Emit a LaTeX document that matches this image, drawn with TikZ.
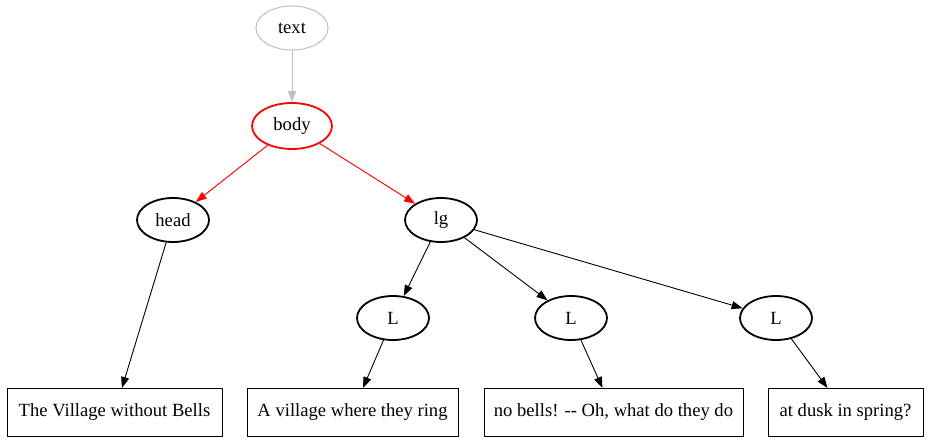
\documentclass[tikz,border=0pt]{standalone}
\usepackage{fontspec}
\setmainfont{Liberation Serif}
\usetikzlibrary{arrows.meta,shapes.geometric}
\begin{document}
\begin{tikzpicture}[x=1pt,y=-1pt,
  every node/.style={font=\fontsize{18.6}{21}\selectfont, inner sep=0pt},
  ell/.style={ellipse, draw=black, line width=1.8pt, minimum width=72pt, minimum height=44pt},
  grayell/.style={ellipse, draw=black!25, line width=1pt, minimum width=72pt, minimum height=44pt},
  redell/.style={ellipse, draw=red, line width=1.8pt, minimum width=80pt, minimum height=46pt},
  box/.style={rectangle, draw=black, line width=1pt, minimum height=48pt},
  edge/.style={line width=0.9pt, -{Triangle[length=11pt,width=8pt]}},
]
\useasboundingbox (0,0) rectangle (928,443);
\node[grayell] (text) at (292,28) {text};
\node[redell] (body) at (292,126) {body};
\node[ell] (head) at (173,220) {head};
\node[ell] (lg) at (441,220) {lg};
\node[ell] (L1) at (393,318) {L};
\node[ell] (L2) at (571,318) {L};
\node[ell] (L3) at (776,318) {L};
\node[box, minimum width=215pt] (r1) at (114.5,412.5) {The Village without Bells};
\node[box, minimum width=211pt] (r2) at (352.5,412.5) {A village where they ring};
\node[box, minimum width=259pt] (r3) at (613.5,412.5) {no bells! {-}{-} Oh, what do they do};
\node[box, minimum width=155pt] (r4) at (845.5,412.5) {at dusk in spring?};
\draw[edge, draw=black!25, fill=black!25] (text) -- (body);
\draw[edge, draw=red, fill=red] (body) -- (head);
\draw[edge, draw=red, fill=red] (body) -- (lg);
\draw[edge] (head) -- (r1);
\draw[edge] (lg) -- (L1);
\draw[edge] (lg) -- (L2);
\draw[edge] (lg) -- (L3);
\draw[edge] (L1) -- (r2);
\draw[edge] (L2) -- (r3);
\draw[edge] (L3) -- (r4);
\end{tikzpicture}
\end{document}
